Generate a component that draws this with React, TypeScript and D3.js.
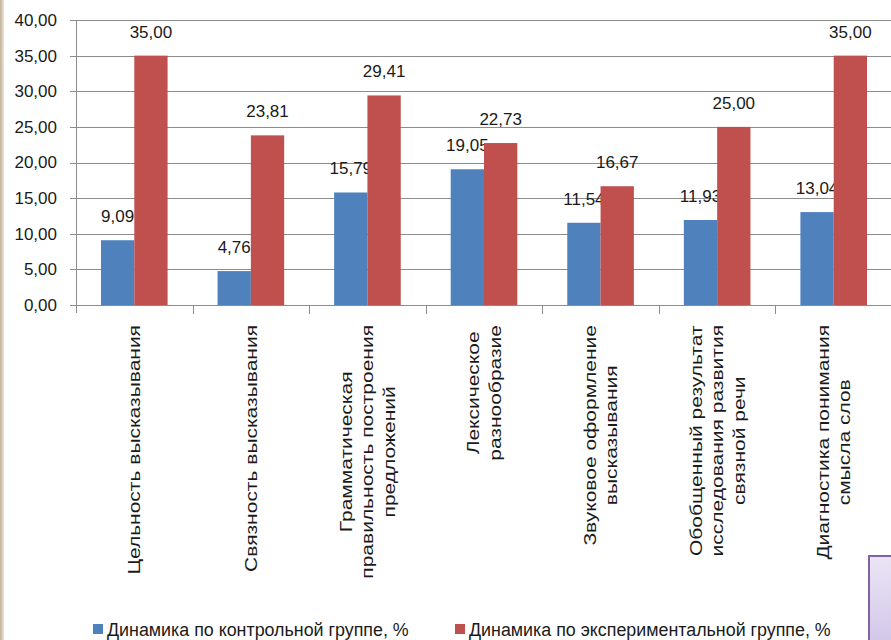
import { useRef, useEffect } from "react";
import * as d3 from "d3";

const categories = [
  "Цельность высказывания",
  "Связность высказывания",
  "Грамматическая|правильность построения|предложений",
  "Лексическое|разнообразие",
  "Звуковое оформление|высказывания",
  "Обобщенный результат|исследования развития|связной речи",
  "Диагностика понимания|смысла слов",
];
const seriesNames = [
  "Динамика по контрольной группе, %",
  "Динамика по экспериментальной группе, %",
];
const controlValues = [9.09, 4.76, 15.79, 19.05, 11.54, 11.93, 13.04];
const experimentValues = [35.0, 23.81, 29.41, 22.73, 16.67, 25.0, 35.0];
const yTicks = [0, 5, 10, 15, 20, 25, 30, 35, 40];
const colors = ["#4F81BD", "#C0504D"];

const W = 891;
const H = 640;
const numFont = "'Liberation Sans', Arial, sans-serif";
const catFont = "'Liberation Sans', Arial, sans-serif";
const fmt = (v: number) => d3.format(".2f")(v).replace(".", ",");

export default function App() {
  const svgRef = useRef<SVGSVGElement>(null);

  useEffect(() => {
    if (!svgRef.current) return;
    const svg = d3.select(svgRef.current);
    svg.selectAll("*").remove();

    const defs = svg.append("defs");
    const lg = defs
      .append("linearGradient")
      .attr("id", "edge")
      .attr("x1", 0)
      .attr("x2", 1);
    lg.append("stop").attr("offset", 0).attr("stop-color", "#bfb298");
    lg.append("stop").attr("offset", 1).attr("stop-color", "#ece6d8");
    const pg = defs
      .append("linearGradient")
      .attr("id", "purp")
      .attr("x1", 0)
      .attr("y1", 0)
      .attr("x2", 0)
      .attr("y2", 1);
    pg.append("stop").attr("offset", 0).attr("stop-color", "#ebe4f5");
    pg.append("stop").attr("offset", 1).attr("stop-color", "#cfc3e8");

    svg.append("rect").attr("width", W).attr("height", H).attr("fill", "#fff");
    svg.append("rect").attr("width", 4).attr("height", H).attr("fill", "url(#edge)");

    const left = 76;
    const right = 892;
    const top = 20;
    const bottom = 305;

    const x0 = d3.scaleBand<number>().domain(d3.range(categories.length)).range([left, right]);
    const x1 = d3
      .scaleBand<number>()
      .domain([0, 1])
      .range([0, x0.bandwidth()])
      .paddingInner(0)
      .paddingOuter(0.75);
    const y = d3.scaleLinear().domain([0, 40]).range([bottom, top]);

    // gridlines
    svg
      .append("g")
      .selectAll("line")
      .data(yTicks)
      .join("line")
      .attr("x1", left - 6)
      .attr("x2", right)
      .attr("y1", (d) => Math.round(y(d)) + 0.5)
      .attr("y2", (d) => Math.round(y(d)) + 0.5)
      .attr("stroke", "#8c8c8c")
      .attr("stroke-width", 1);

    // y axis labels
    svg
      .append("g")
      .selectAll("text")
      .data(yTicks)
      .join("text")
      .attr("x", left - 19)
      .attr("y", (d) => y(d))
      .attr("dy", "0.35em")
      .attr("text-anchor", "end")
      .attr("font-family", numFont)
      .attr("font-size", 17)
      .attr("fill", "#1a1a1a")
      .text((d) => fmt(d));

    // bars
    const series = [controlValues, experimentValues];
    series.forEach((vals, si) => {
      svg
        .append("g")
        .selectAll("rect")
        .data(vals)
        .join("rect")
        .attr("x", (_, i) => x0(i)! + x1(si)!)
        .attr("y", (d) => y(d))
        .attr("width", x1.bandwidth())
        .attr("height", (d) => y(0) - y(d))
        .attr("fill", colors[si]);
      svg
        .append("g")
        .selectAll("text")
        .data(vals)
        .join("text")
        .attr("x", (_, i) => x0(i)! + x1(si)! + x1.bandwidth() / 2)
        .attr("y", (d) => y(d) - 18)
        .attr("text-anchor", "middle")
        .attr("font-family", numFont)
        .attr("font-size", 17)
        .attr("fill", "#1a1a1a")
        .text((d) => fmt(d));
    });

    // axes lines
    svg
      .append("line")
      .attr("x1", left + 0.5)
      .attr("x2", left + 0.5)
      .attr("y1", top)
      .attr("y2", bottom + 8)
      .attr("stroke", "#8c8c8c");
    svg
      .append("line")
      .attr("x1", left)
      .attr("x2", right)
      .attr("y1", bottom + 0.5)
      .attr("y2", bottom + 0.5)
      .attr("stroke", "#8c8c8c");
    svg
      .append("g")
      .selectAll("line")
      .data(d3.range(1, categories.length))
      .join("line")
      .attr("x1", (i) => Math.round(x0(i)!) + 0.5)
      .attr("x2", (i) => Math.round(x0(i)!) + 0.5)
      .attr("y1", bottom)
      .attr("y2", bottom + 9)
      .attr("stroke", "#8c8c8c");

    // category labels (rotated, lines centered, block top-aligned)
    const sx = 0.82;
    const lineH = 21.5 / sx;
    const fs = 21;
    categories.forEach((label, i) => {
      const lines = label.split("|");
      const cx = x0(i)! + x0.bandwidth() / 2;
      const g = svg
        .append("g")
        .attr("transform", `translate(${cx},${bottom + 20}) scale(${sx},1) rotate(-90)`);
      const tmp = g
        .selectAll("text")
        .data(lines)
        .join("text")
        .attr("font-family", catFont)
        .attr("font-size", fs)
        .attr("fill", "#1a1a1a")
        .attr("text-anchor", "middle")
        .attr("y", (_, k) => (k - (lines.length - 1) / 2) * lineH)
        .attr("dy", "0.35em")
        .text((d) => d);
      let maxW = 0;
      tmp.each(function () {
        maxW = Math.max(maxW, (this as SVGTextElement).getComputedTextLength());
      });
      tmp.attr("x", -maxW / 2);
    });

    // legend
    const legendX = [93, 455];
    seriesNames.forEach((name, si) => {
      svg
        .append("rect")
        .attr("x", legendX[si])
        .attr("y", 624)
        .attr("width", 10)
        .attr("height", 10)
        .attr("fill", colors[si]);
      svg
        .append("g")
        .attr("transform", `translate(${legendX[si] + 14},629) scale(0.94,1)`)
        .append("text")
        .attr("dy", "0.35em")
        .attr("font-family", numFont)
        .attr("font-size", 19)
        .attr("fill", "#1a1a1a")
        .text(name);
    });

    // slide decoration box at bottom right
    svg
      .append("rect")
      .attr("x", 869)
      .attr("y", 556)
      .attr("width", 30)
      .attr("height", 100)
      .attr("fill", "url(#purp)")
      .attr("stroke", "#8064A2")
      .attr("stroke-width", 2);
  }, []);

  return (
    <svg
      ref={svgRef}
      width={W}
      height={H}
      style={{ position: "absolute", left: 0, top: 0, display: "block" }}
    />
  );
}
